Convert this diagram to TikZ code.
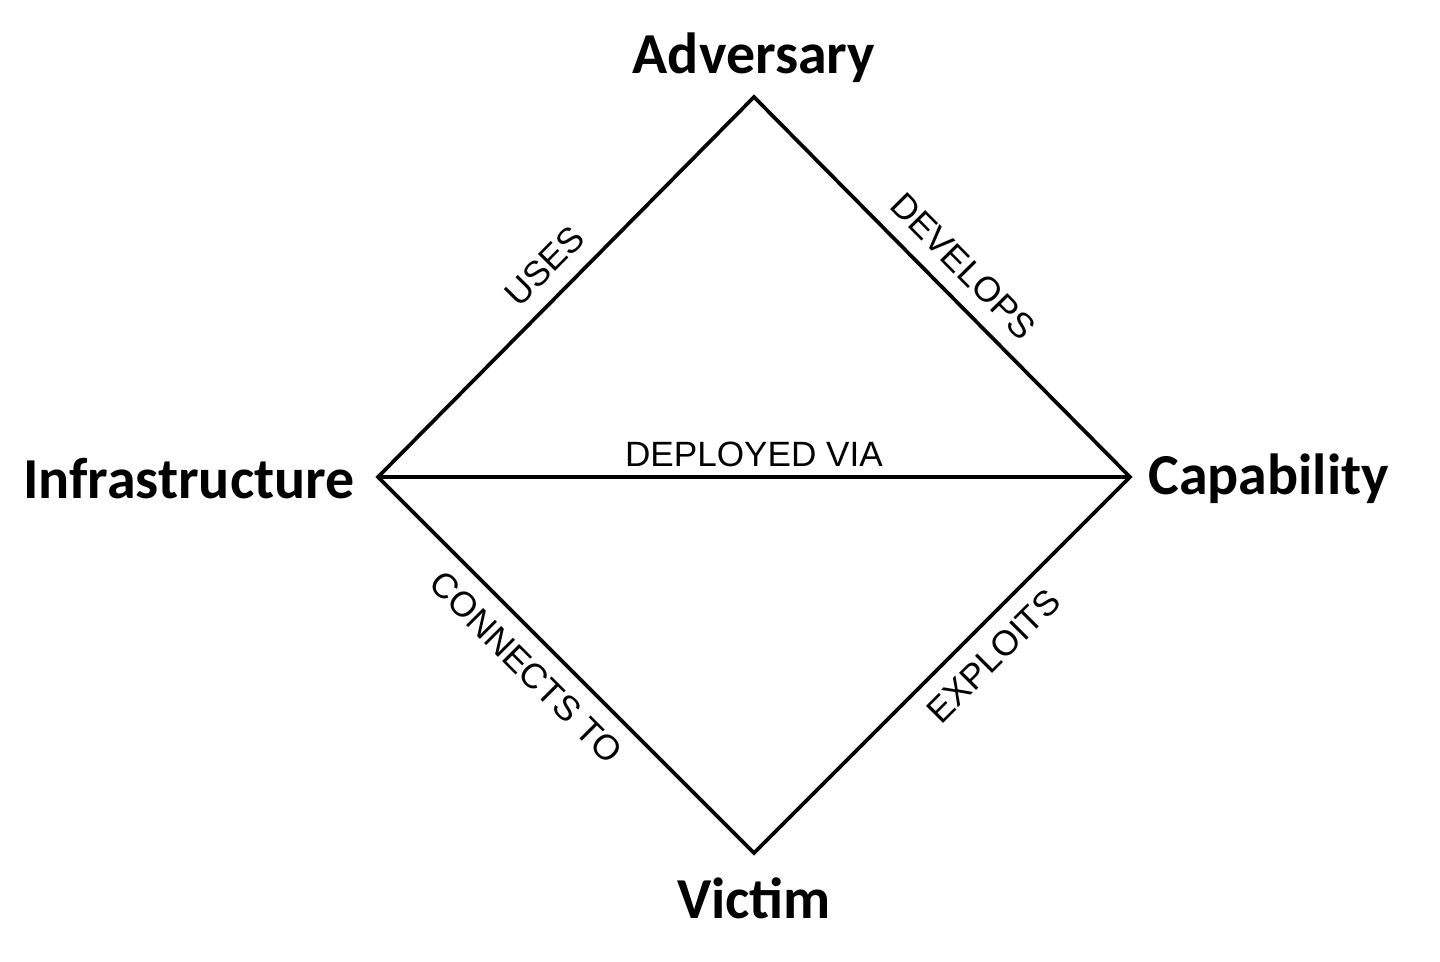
\documentclass[tikz,border=0pt]{standalone}
\usepackage{fontspec}
\setmainfont{Liberation Sans}
\newfontfamily\vertexfont{Carlito}
\begin{document}
\begin{tikzpicture}[x=0.02cm,y=-0.02cm,
  vertex/.style={font=\vertexfont\bfseries\fontsize{33}{33}\selectfont, inner sep=0pt},
  edgelabel/.style={font=\fontsize{20}{20}\selectfont, sloped, inner sep=9pt},
  side/.style={line width=2.1pt, line join=miter}]
\useasboundingbox (0,0) rectangle (1440,961);
% corners of the diamond
\coordinate (adv) at (754,97);
\coordinate (inf) at (378,477);
\coordinate (cap) at (1130,477);
\coordinate (vic) at (754,853);
\node[vertex] (advlabel) at (754,58) {Adversary};
\node[vertex, anchor=east] (inflabel) at (355,479) {Infrastructure};
\node[vertex, anchor=west] (caplabel) at (1148,479) {Capability};
\node[vertex] (viclabel) at (754,898) {Victim};
\draw[side] (inf) -- node[edgelabel, above, pos=0.5] {USES} (adv)
  -- node[edgelabel, above, pos=0.5] {DEVELOPS} (cap)
  -- node[edgelabel, below, pos=0.42] {EXPLOITS} (vic)
  -- node[edgelabel, below, pos=0.55] {CONNECTS TO} (inf) -- cycle;
\draw[side] (inf) -- node[edgelabel, above, inner sep=5pt] {DEPLOYED VIA} (cap);
\end{tikzpicture}
\end{document}
